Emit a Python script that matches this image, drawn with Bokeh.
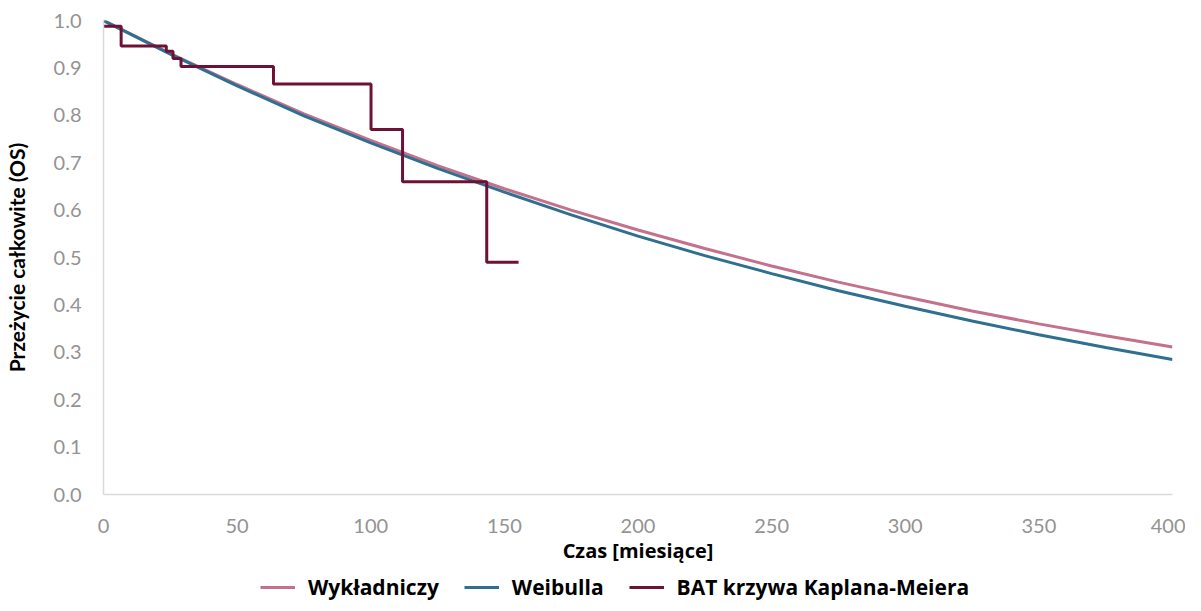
from bokeh.plotting import figure
from bokeh.layouts import column
from bokeh.models import Legend, LegendItem, FixedTicker, Range1d
from bokeh.embed import file_html
from bokeh.resources import INLINE

# ---- data ----
months = [0, 25, 50, 75, 100, 125, 150, 175, 200, 225, 250, 275, 300, 325, 350, 375, 400]
exp_surv = [1.0, 0.930, 0.865, 0.803, 0.747, 0.694, 0.645, 0.600, 0.558, 0.519, 0.482,
            0.448, 0.417, 0.387, 0.360, 0.335, 0.311]
weib_surv = [1.0, 0.929, 0.862, 0.799, 0.742, 0.688, 0.638, 0.590, 0.545, 0.504, 0.466,
             0.430, 0.397, 0.366, 0.337, 0.310, 0.285]
km_time = [0, 6.6, 23.5, 26.0, 29.0, 63.6, 100.1, 111.9, 143.4, 155.3]
km_surv = [0.988, 0.946, 0.935, 0.920, 0.903, 0.866, 0.770, 0.660, 0.490, 0.490]

x_ticks = [0, 50, 100, 150, 200, 250, 300, 350, 400]
y_ticks = [0.0, 0.1, 0.2, 0.3, 0.4, 0.5, 0.6, 0.7, 0.8, 0.9, 1.0]
y_tick_labels = ["0.0", "0.1", "0.2", "0.3", "0.4", "0.5", "0.6", "0.7", "0.8", "0.9", "1.0"]

series_names = ["Wykładniczy", "Weibulla", "BAT krzywa Kaplana-Meiera"]
x_title = "Czas [miesiące]"
y_title = "Przeżycie całkowite (OS)"

# ---- styles ----
c_exp = "#c4718c"
c_weib = "#2f6f8f"
c_km = "#6d1235"
tick_font = "Lato"
title_font = "Open Sans"
lw = 3

p = figure(width=1185, height=566, output_backend="svg", toolbar_location=None,
           x_range=Range1d(0, 400), y_range=Range1d(0, 1.0),
           min_border_left=100, min_border_right=13, min_border_top=20, min_border_bottom=40)
p.outline_line_color = None
p.xgrid.grid_line_color = None
p.ygrid.grid_line_color = None

p.line(months, exp_surv, line_color=c_exp, line_width=lw)
p.line(months, weib_surv, line_color=c_weib, line_width=lw)
p.step(km_time, km_surv, mode="after", line_color=c_km, line_width=lw)

for ax in (p.xaxis[0], p.yaxis[0]):
    ax.major_tick_out = 0
    ax.major_tick_in = 0
    ax.minor_tick_out = 0
    ax.minor_tick_in = 0
    ax.axis_line_color = "#d9d9d9"
    ax.axis_line_width = 1.5
    ax.major_label_text_font = tick_font
    ax.major_label_text_font_size = "20px"
    ax.major_label_text_color = "#939393"
    ax.axis_label_text_font_style = "bold"
    ax.axis_label_text_color = "#000000"

p.xaxis.ticker = FixedTicker(ticks=x_ticks)
p.yaxis.ticker = FixedTicker(ticks=y_ticks)
p.yaxis.major_label_overrides = {t: s for t, s in zip(y_ticks, y_tick_labels)}
p.xaxis.major_label_standoff = 24
p.yaxis.major_label_standoff = 22
p.xaxis.axis_label = x_title
p.yaxis.axis_label = y_title
p.xaxis.axis_label_text_font = title_font
p.yaxis.axis_label_text_font = "Lato"
p.xaxis.axis_label_text_font_size = "20px"
p.yaxis.axis_label_text_font_size = "21px"
p.xaxis.axis_label_standoff = 1
p.yaxis.axis_label_standoff = 22

# ---- legend row (separate strip below the chart, its lines kept out of view) ----
lg = figure(width=1185, height=36, output_backend="svg", toolbar_location=None,
            x_range=Range1d(-20, -10), y_range=Range1d(5, 6),
            x_axis_location=None, y_axis_location=None,
            min_border_left=0, min_border_right=0, min_border_top=0, min_border_bottom=0)
lg.outline_line_color = None
lg.xgrid.grid_line_color = None
lg.ygrid.grid_line_color = None
l_exp = lg.line(months, exp_surv, line_color=c_exp, line_width=lw)
l_weib = lg.line(months, weib_surv, line_color=c_weib, line_width=lw)
l_km = lg.step(km_time, km_surv, mode="after", line_color=c_km, line_width=lw)

legend = Legend(items=[LegendItem(label=series_names[0], renderers=[l_exp]),
                       LegendItem(label=series_names[1], renderers=[l_weib]),
                       LegendItem(label=series_names[2], renderers=[l_km])],
                orientation="horizontal", location=(157, 1),
                glyph_width=35, glyph_height=20, label_standoff=13, spacing=25,
                padding=4, margin=0, border_line_color=None, background_fill_alpha=0,
                label_text_font=title_font, label_text_font_style="bold",
                label_text_font_size="21px", label_text_color="#000000")
lg.add_layout(legend, "center")

layout = column(p, lg, spacing=0)
open("out.html", "w").write(file_html(layout, INLINE))
